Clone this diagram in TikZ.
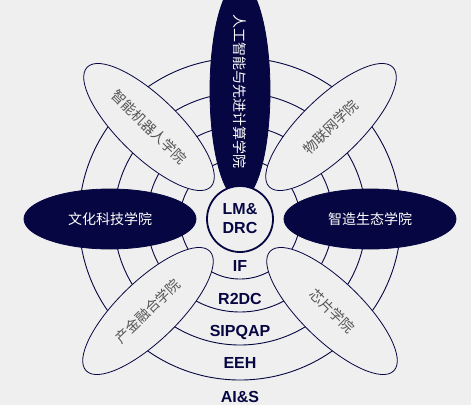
\documentclass[tikz,border=0pt]{standalone}
\usepackage{fontspec}
\usetikzlibrary{shapes.geometric}
\newfontfamily\labfont{Liberation Sans}
\newfontfamily\cjkfont{Noto Sans CJK SC}
\definecolor{navy}{RGB}{6,6,66}
\definecolor{bg}{RGB}{239,239,239}
\definecolor{cjkgray}{RGB}{85,85,85}
\begin{document}
\begin{tikzpicture}[x=1pt,y=-1pt,
  ring/.style={draw=navy,line width=0.9pt},
  petal/.style={ellipse,draw=navy,line width=0.8pt,fill=bg,minimum width=172pt,minimum height=60pt,inner sep=0pt,font=\cjkfont\fontsize{14}{14}\selectfont,text=cjkgray},
  darkpetal/.style={petal,fill=navy,text=white},
  lab/.style={font=\labfont\bfseries\fontsize{16}{19}\selectfont,text=navy,inner sep=0pt}]
\useasboundingbox (0,0) rectangle (471,405);
\fill[bg] (0,0) rectangle (471,405);
\coordinate (c) at (240,219);
\foreach \r in {60,93,126,161} \draw[ring] (c) circle[radius=\r pt];
% white petals
\node[petal,rotate=-44] (robot) at (149,127) {智能机器人学院};
\node[petal,rotate=44] (iot) at (331,127) {物联网学院};
\node[petal,rotate=44] (fin) at (148,311) {产金融合学院};
\node[petal,rotate=-44] (chip) at (332,311) {芯片学院};
% dark petals
\node[darkpetal,rotate=-90] (ai) at (240,91) {人工智能与先进计算学院};
\node[darkpetal] (cult) at (110,219) {文化科技学院};
\node[darkpetal] (manu) at (370,219) {智造生态学院};
% hub
\node[lab,draw=navy,line width=1.8pt,circle,minimum size=66pt,fill=bg,align=center] (hub) at (c) {LM\&\\DRC};
% ring labels
\node[lab] (if) at (240,266) {IF};
\node[lab] (r2dc) at (240,299) {R2DC};
\node[lab] (sipqap) at (240,332) {SIPQAP};
\node[lab] (eeh) at (240,363) {EEH};
\node[lab] (ais) at (240,397) {AI\&S};
\end{tikzpicture}
\end{document}
